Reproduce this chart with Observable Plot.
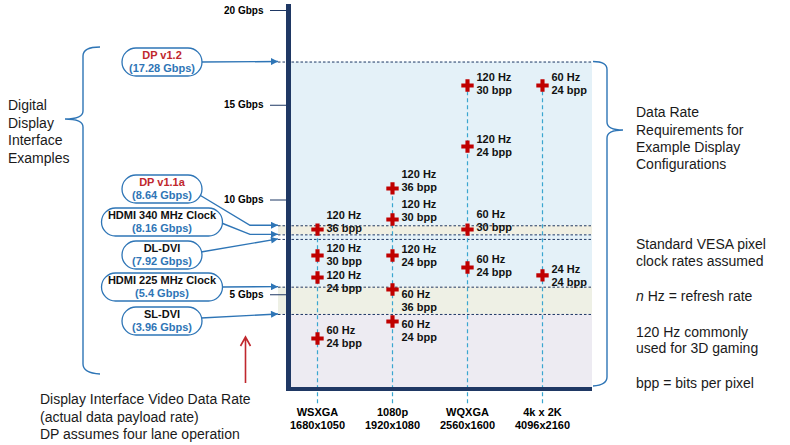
<!DOCTYPE html>
<html><head><meta charset="utf-8">
<script src="https://cdn.jsdelivr.net/npm/d3@7"></script>
<script src="https://cdn.jsdelivr.net/npm/@observablehq/plot@0.6"></script>
<style>body{margin:0;background:#fff} svg{display:block}</style>
</head><body><div id="chart"></div>
<script>
// ---- data ----
const resolutions = ["WSXGA", "1080p", "WQXGA", "4k x 2K"];
const pixelCounts = ["1680x1050", "1920x1080", "2560x1600", "4096x2160"];

const pointRes  = ["WSXGA","WSXGA","WSXGA","WSXGA","1080p","1080p","1080p","1080p","1080p","WQXGA","WQXGA","WQXGA","WQXGA","4k x 2K","4k x 2K"];
const pointRate = [8.44, 7.07, 5.91, 2.69, 10.61, 8.97, 7.07, 5.28, 3.59, 16.04, 12.82, 8.44, 6.44, 16.04, 6.02];
const pointHz   = [120, 120, 120, 60, 120, 120, 120, 60, 60, 120, 120, 60, 60, 60, 24];
const pointBpp  = [36, 30, 24, 24, 36, 30, 24, 36, 24, 30, 24, 30, 24, 24, 24];

const interfaceNames = ["DP v1.2", "DP v1.1a", "HDMI 340 MHz Clock", "DL-DVI", "HDMI 225 MHz Clock", "SL-DVI"];
const interfaceRates = [17.28, 8.64, 8.16, 7.92, 5.4, 3.96];

const yTicks = [5, 10, 15, 20];

// ---- layout (pixels) ----
const labelShift = [-8, -1, 4, -2, -8, -9, 0, 11, 9, -2, -1, -9, -2, -2, 0];
const ovalCY = [62, 189, 222, 255, 287, 321];
const ovalW  = [80, 80, 121, 80, 121, 80];

// ---- derived tables ----
const points = pointRes.map((r, i) => ({res: r, rate: pointRate[i], label: `${pointHz[i]} Hz\n${pointBpp[i]} bpp`, shift: labelShift[i]}));
const colTop = resolutions.map(r => ({res: r, top: d3.max(points.filter(p => p.res === r), p => p.rate)}));
const bounds = [...interfaceRates, 0];
const bandKinds = ["blue", "beige", "blue", "blue", "green", "lav"];
const bandFill = {blue: "#e4f1f8", beige: "#f0efe2", green: "#eef0e5", lav: "#edebf2"};
const bands = bandKinds.map((k, i) => ({kind: k, y1: bounds[i], y2: bounds[i + 1]}));

const FONT = "'Liberation Sans', Arial, Helvetica, sans-serif";
const NAVY = "#1f3864";
const BLUE = "#2e75b6";
const RED = "#c0272d";

const chart = Plot.plot({
  width: 790, height: 445,
  marginTop: 10, marginBottom: 56, marginLeft: 289, marginRight: 198,
  style: {fontFamily: FONT, fontSize: "10px", color: "#000", background: "white", overflow: "visible"},
  x: {type: "point", domain: resolutions, padding: 0.5, align: 0.355, label: null},
  y: {domain: [0, 20], label: null},
  marks: [
    Plot.rect(bands.filter(b => b.kind === "blue" || b.kind === "lav"), {y1: "y1", y2: "y2", fill: d => bandFill[d.kind]}),
    Plot.rect(bands.filter(b => b.kind === "beige" || b.kind === "green"), {y1: "y1", y2: "y2", fill: d => bandFill[d.kind], insetLeft: -11}),
    Plot.ruleY(interfaceRates, {stroke: NAVY, strokeWidth: 1, strokeDasharray: "2.5,2", insetLeft: -11}),
    Plot.ruleX(colTop, {x: "res", y1: -0.75, y2: "top", stroke: "#3aa6d0", strokeWidth: 1.2, strokeDasharray: "4,3"}),
    Plot.axisY({ticks: yTicks, tickFormat: d => `${d} Gbps`, tickSize: 19, tickPadding: 7, fontWeight: "bold", fontSize: 10, stroke: NAVY, fill: "#000"}),
    Plot.axisX({tickSize: 0, tickPadding: 18, tickFormat: d => `${d}\n${pixelCounts[resolutions.indexOf(d)]}`, fontWeight: "bold", fontSize: 11, fill: "#000", lineHeight: 1.15}),
    Plot.dot(points, {x: "res", y: "rate", symbol: "cross", r: 5.2, fill: "#c00000", stroke: null}),
    ...points.map(p => Plot.text([p], {x: "res", y: "rate", text: "label", dx: 9, dy: p.shift, textAnchor: "start", fontWeight: "bold", fontSize: 11, fill: "#111", lineHeight: 1.12}))
  ]
});
document.getElementById("chart").append(chart);

// ---- annotations ----
const svg = d3.select(chart);
const ys = v => chart.scale("y").apply(v);
const left = 289, right = 592, bottom = ys(0);

const defs = svg.append("defs");
defs.append("marker").attr("id", "ah").attr("viewBox", "0 0 10 10").attr("refX", 10).attr("refY", 5)
  .attr("markerWidth", 10).attr("markerHeight", 7).attr("markerUnits", "userSpaceOnUse").attr("orient", "auto")
  .append("path").attr("d", "M0,0 L10,5 L0,10 Z").attr("fill", BLUE);

const g = svg.append("g").attr("text-anchor", "start");
// axis lines
g.append("line").attr("x1", left - 0.5).attr("x2", left - 0.5).attr("y1", 4).attr("y2", bottom + 2).attr("stroke", NAVY).attr("stroke-width", 5);
g.append("line").attr("x1", left - 3).attr("x2", right).attr("y1", bottom).attr("y2", bottom).attr("stroke", NAVY).attr("stroke-width", 4);

const ovalCX = 162, ovalH = 28, tipX = 278;
interfaceNames.forEach((name, i) => {
  const cy = ovalCY[i], w = ovalW[i], ty = ys(interfaceRates[i]);
  const isDP = name.startsWith("DP");
  let d;
  const x0 = ovalCX + w / 2 - 1;
  if (i === 1) d = `M${x0 - 3},${cy + 5} L250,${ty} L${tipX},${ty}`;
  else if (i === 2) d = `M${x0},${cy + 1} L250,${ty} L${tipX},${ty}`;
  else d = `M${x0},${cy + (i === 3 ? -3 : i === 5 ? -3 : 0)} L${tipX},${ty}`;
  g.append("path").attr("d", d).attr("fill", "none").attr("stroke", BLUE).attr("stroke-width", 1.4).attr("marker-end", "url(#ah)");
  g.append("rect").attr("x", ovalCX - w / 2).attr("y", cy - ovalH / 2).attr("width", w).attr("height", ovalH)
    .attr("rx", ovalH / 2).attr("fill", "white").attr("stroke", BLUE).attr("stroke-width", 1.3);
  g.append("text").attr("x", ovalCX).attr("y", cy - 3).attr("text-anchor", "middle")
    .attr("font-family", FONT).attr("font-size", 11).attr("font-weight", "bold").attr("fill", isDP ? RED : "#111").text(name);
  g.append("text").attr("x", ovalCX).attr("y", cy + 10).attr("text-anchor", "middle")
    .attr("font-family", FONT).attr("font-size", 11).attr("font-weight", "bold").attr("fill", BLUE).text(`(${interfaceRates[i]} Gbps)`);
});

// braces
g.append("path").attr("d", "M100,47 Q83,47 83,56 L83,111 Q83,119 65,119 Q83,119 83,127 L83,364 Q83,373 100,374")
  .attr("fill", "none").attr("stroke", BLUE).attr("stroke-width", 1.4);
const yTopR = ys(interfaceRates[0]);
g.append("path").attr("d", `M593,${yTopR} Q607,${yTopR} 607,${yTopR + 8} L607,122 Q607,130 623,130 Q607,130 607,138 L607,377 Q607,385 593,386`)
  .attr("fill", "none").attr("stroke", BLUE).attr("stroke-width", 1.4);

// red arrow
g.append("path").attr("d", "M245.5,383 L245.5,337 M240.5,346 L245.5,337 L250.5,346")
  .attr("fill", "none").attr("stroke", RED).attr("stroke-width", 1.6);

// free text
function lines(x, ys0, arr, size) {
  arr.forEach((t, i) => g.append("text").attr("x", x).attr("y", ys0[i]).attr("font-family", FONT)
    .attr("font-size", size).attr("text-anchor", "start").attr("fill", "#1a1a1a").text(t));
}
lines(8, [110, 128, 145, 163], ["Digital", "Display", "Interface", "Examples"], 14);
lines(40, [404, 422, 439], ["Display Interface Video Data Rate", "(actual data payload rate)", "DP assumes four lane operation"], 14);
lines(636, [117, 135, 152, 169], ["Data Rate", "Requirements for", "Example Display", "Configurations"], 14);
lines(636, [249, 266], ["Standard VESA pixel", "clock rates assumed"], 14);
const nt = g.append("text").attr("x", 636).attr("y", 301).attr("font-family", FONT).attr("font-size", 14).attr("text-anchor", "start").attr("fill", "#1a1a1a");
nt.append("tspan").attr("font-style", "italic").text("n");
nt.append("tspan").text(" Hz = refresh rate");
lines(636, [337, 353], ["120 Hz commonly", "used for 3D gaming"], 14);
lines(636, [388], ["bpp = bits per pixel"], 14);
</script>
</body></html>
